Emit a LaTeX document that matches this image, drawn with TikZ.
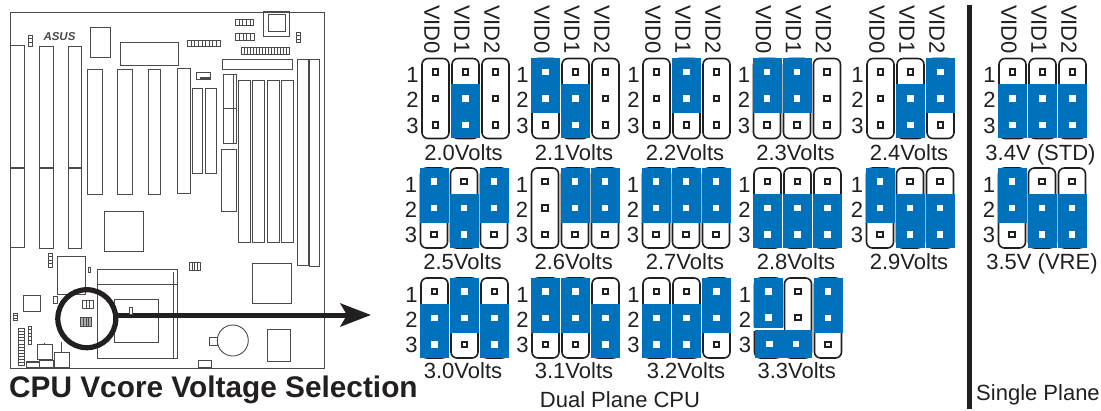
\documentclass[tikz,border=0pt]{standalone}
\usepackage{fontspec}
\setmainfont{Liberation Sans}
\usetikzlibrary{arrows.meta}
\definecolor{ink}{HTML}{231F20}
\definecolor{capblue}{HTML}{0072BC}
\definecolor{pcb}{HTML}{4A4A4A}
\tikzset{
  part/.style={draw=pcb,line width=0.9pt},
  jbox/.style={draw=ink,line width=1.6pt,rounded corners=6pt,fill=white},
  jcap/.style={fill=capblue,draw=none},
  pinopen/.style={draw=ink,line width=2pt,fill=white},
  pinwhite/.style={fill=white,draw=none},
  txt/.style={text=ink,inner sep=0pt,font=\fontsize{22}{24}\selectfont},
  vollab/.style={txt,anchor=base},
  ring/.style={circle,draw=ink,line width=5.2pt,minimum size=58pt,inner sep=0pt},
}
% one rectangular part of the board
\newcommand\bx[4]{\draw[part] (#1,#2) rectangle (#3,#4);}
% connector with cells side by side
\newcommand\hconn[5]{\draw[part] (#1,#2) rectangle (#3,#4);
  \foreach \k in {1,...,#5}{\draw[part,line width=0.7pt] ({#1+(#3-#1)*\k/(#5+1)},#2) -- ({#1+(#3-#1)*\k/(#5+1)},#4);}}
% connector with cells stacked
\newcommand\vconn[5]{\draw[part] (#1,#2) rectangle (#3,#4);
  \foreach \k in {1,...,#5}{\draw[part,line width=0.7pt] (#1,{#2+(#4-#2)*\k/(#5+1)}) -- (#3,{#2+(#4-#2)*\k/(#5+1)});}}
\newcommand\popen[2]{\draw[pinopen] ({#1-2.7},{#2-2.7}) rectangle ({#1+2.7},{#2+2.7});}
\newcommand\pwhite[2]{\fill[pinwhite] ({#1-3.4},{#2-3.4}) rectangle ({#1+3.4},{#2+3.4});}
% column states: N no cap, U cap on pins 1-2, D cap on pins 2-3
\newcommand\jstateN[2]{\popen{#1}{#2}\popen{#1}{#2+26.5}\popen{#1}{#2+53}}
\newcommand\jstateU[2]{\fill[jcap] ({#1-14.5},{#2-14}) rectangle ({#1+14.5},{#2+41});
  \pwhite{#1}{#2}\pwhite{#1}{#2+26.5}\popen{#1}{#2+53}}
\newcommand\jstateD[2]{\fill[jcap] ({#1-14.5},{#2+12}) rectangle ({#1+14.5},{#2+66});
  \popen{#1}{#2}\pwhite{#1}{#2+26.5}\pwhite{#1}{#2+53}}
\newcommand\jcol[3]{\draw[jbox] ({#2-13.5},{#3-13.5}) rectangle ({#2+13.5},{#3+66.5});
  \csname jstate#1\endcsname{#2}{#3}}
\newcommand\numbers[3]{%
  \node[txt] (n#3a) at ({#1-23},{#2+3}) {1};
  \node[txt] (n#3b) at ({#1-23},{#2+28}) {2};
  \node[txt] (n#3c) at ({#1-23},{#2+53.5}) {3};}
% #1 x of first column, #2 y of first pin, #3-#5 column states, #6 id
\newcommand\jgroup[6]{\jcol{#3}{#1}{#2}\jcol{#4}{#1+30}{#2}\jcol{#5}{#1+60}{#2}\numbers{#1}{#2}{#6}}
\newcommand\vids[2]{%
  \node[txt,rotate=-90] (vid#2a) at ({#1-3.5},29.5) {VID0};
  \node[txt,rotate=-90] (vid#2b) at ({#1+26.5},29.5) {VID1};
  \node[txt,rotate=-90] (vid#2c) at ({#1+56.5},29.5) {VID2};}
\begin{document}
\begin{tikzpicture}[x=1pt,y=-1pt]
\useasboundingbox (0,0) rectangle (1101,410);
% board
\bx{10}{12.7}{324}{368}
\bx{10}{45}{24}{167}\bx{10}{168.5}{24}{247.7}
\bx{39.5}{46}{53}{167}\bx{39.5}{168.5}{53}{248}
\bx{68.5}{46}{81.5}{167}\bx{68.5}{168.5}{81.5}{248}
\vconn{28.5}{35}{32.5}{46}{2}
\node[inner sep=0pt,text=pcb,font=\fontsize{11.5}{11.5}\selectfont\bfseries\itshape] (logo) at (59.5,37) {ASUS};
\bx{90}{27}{110}{57}
\bx{120.5}{42.5}{178.5}{65.5}
\hconn{187.5}{40}{220}{46.5}{8}
\bx{87.5}{69.5}{102}{194}
\bx{117.5}{69.5}{132}{194}
\bx{148}{69.5}{160.5}{194.5}
\bx{177}{68.5}{190.5}{193}
\bx{196}{72}{210}{79}
\draw[part,line width=1.6pt] (200,78) -- (210,78);
\bx{192}{88.5}{202.5}{173}
\bx{205.5}{88.5}{216}{173}
\hconn{235.5}{19}{253.5}{25.5}{4}
\hconn{235.5}{33.5}{254}{40}{4}
\hconn{241.5}{47.5}{289}{54}{15}
\bx{222.5}{59}{292.5}{69.5}
\bx{263.5}{11.5}{289.5}{36}
\bx{268.5}{14}{285.5}{31.5}
\vconn{296.5}{32}{300.5}{42.5}{2}
\bx{297.5}{59.5}{308}{265.5}
\bx{309}{59.5}{319.5}{266}
\bx{223}{74.5}{236}{143}
\draw[part] (233.3,74.5) -- (233.3,143);
\draw[part,line width=1.6pt] (223,108.5) -- (236,108.5);
\bx{221.5}{149.5}{236}{211.5}
\bx{238.5}{80.5}{250}{242.5}
\bx{252.5}{80.5}{264.5}{242.5}
\bx{267.5}{80.5}{279}{242.5}
\bx{281.5}{80.5}{293}{242.5}
\bx{104}{211.5}{143}{251.5}
\vconn{48.5}{253}{52.5}{267}{3}
\bx{57.5}{256.5}{85}{294}
\bx{88}{267}{90.5}{272.5}
\hconn{189}{262}{200.5}{270}{3}
\bx{97.5}{269}{177.5}{358}
\draw[part] (97.5,284.5) -- (177.5,284.5);
\draw[part] (173.5,272) -- (173.5,358);
\bx{114}{299.5}{158}{342.5}
\bx{53.5}{296}{57.5}{303.5}
\bx{23.5}{295}{40.5}{311.5}
\vconn{13.5}{313}{17}{320.5}{2}
\vconn{18}{328.5}{24.5}{365.5}{11}
\vconn{28}{326}{31.5}{344}{4}
\bx{37.5}{344.5}{52.5}{359.5}
\draw[part] (44.5,343) -- (44.5,344.5);
\bx{54}{352}{69}{367}
\draw[part] (61.5,342) -- (61.5,352);
\bx{39}{360}{53.5}{367}
\bx{26.5}{361.5}{39}{367.5}
\draw[part,line width=1.6pt] (26.5,362) -- (39,362);
\bx{198}{360.7}{211}{367.5}
\bx{252}{263}{291.5}{303.5}
\draw[part] (232.8,340.5) circle (15.5);
\bx{209.5}{337}{217.3}{345.5}
\bx{267.5}{329.5}{290.5}{361}
% highlight and arrow
\hconn{82.5}{300.5}{93.5}{308.5}{2}
\fill[gray!65] (80.5,317.5) rectangle (91.5,326);
\hconn{80.5}{317.5}{91.5}{326}{3}
\node[ring] (ring) at (86.8,318.7) {};
\coordinate (tip) at (371,315);
\coordinate (start) at (ring.east |- tip);
\draw[draw=ink,line width=5pt,-{Stealth[length=30.5pt,width=23pt,inset=6.5pt]}] (start) -- (tip);
\draw[part,fill=white] (129,307) rectangle (132.5,314);
% title
\node[anchor=base west,inner sep=0pt,text=ink,font=\fontsize{29.8}{32}\selectfont\bfseries] (title) at (9,397) {CPU Vcore Voltage Selection};
% jumpers, first row
\vids{435.5}{A}\vids{545.5}{B}\vids{656.5}{C}\vids{767}{D}\vids{880.5}{E}\vids{1012.5}{F}
\jgroup{435.5}{72}{N}{D}{N}{a}
\jgroup{545.5}{72}{U}{D}{N}{b}
\jgroup{656.5}{72}{N}{U}{N}{c}
\jgroup{767}{72}{U}{U}{N}{d}
\jgroup{880.5}{72}{N}{D}{U}{e}
\jgroup{1012.5}{72}{D}{D}{D}{f}
% second row
\jgroup{434}{181.5}{U}{D}{U}{g}
\jgroup{545}{181.5}{N}{U}{U}{h}
\jgroup{656}{181.5}{U}{U}{U}{i}
\jgroup{767.5}{181.5}{D}{D}{D}{j}
\jgroup{880}{181.5}{U}{D}{D}{k}
\jgroup{1012}{181.5}{U}{D}{D}{l}
% third row
\jgroup{434.5}{291.5}{D}{U}{D}{m}
\jgroup{545.5}{291.5}{U}{U}{D}{n}
\jgroup{656.5}{291.5}{D}{D}{U}{o}
% 3.3 volts
\draw[jbox] (754.5,278) rectangle (782,358);
\draw[jbox] (784.5,278) rectangle (811.5,358);
\jcol{U}{828}{291.5}
\fill[white] (752,327) rectangle (783.5,331);
\fill[jcap] (754,278) rectangle (783,328);
\fill[jcap] (755,330) rectangle (811.5,358);
\pwhite{768.3}{291.5}\pwhite{768.3}{317.5}
\popen{798}{291.5}\popen{798}{317.5}
\pwhite{769.5}{344}\pwhite{796}{344}
\numbers{768}{291.5}{p}
% volt labels
\node[vollab] (v20) at (463.5,160) {2.0Volts};
\node[vollab] (v21) at (574,160) {2.1Volts};
\node[vollab] (v22) at (685,160) {2.2Volts};
\node[vollab] (v23) at (795.5,160) {2.3Volts};
\node[vollab] (v24) at (909,160) {2.4Volts};
\node[vollab] (v34) at (1040.5,160) {3.4V (STD)};
\node[vollab] (v25) at (462.5,269) {2.5Volts};
\node[vollab] (v26) at (573.7,269) {2.6Volts};
\node[vollab] (v27) at (685,269) {2.7Volts};
\node[vollab] (v28) at (796,269) {2.8Volts};
\node[vollab] (v29) at (909,269) {2.9Volts};
\node[vollab] (v35) at (1042,269) {3.5V (VRE)};
\node[vollab] (v30) at (463,378) {3.0Volts};
\node[vollab] (v31) at (574,378) {3.1Volts};
\node[vollab] (v32) at (686,378) {3.2Volts};
\node[vollab] (v33) at (796.7,378) {3.3Volts};
\node[vollab] (dual) at (620,407.5) {Dual Plane CPU};
\node[vollab] (single) at (1038,400.7) {Single Plane};
% divider
\fill[ink] (966.7,5) rectangle (972,409);
\end{tikzpicture}
\end{document}
